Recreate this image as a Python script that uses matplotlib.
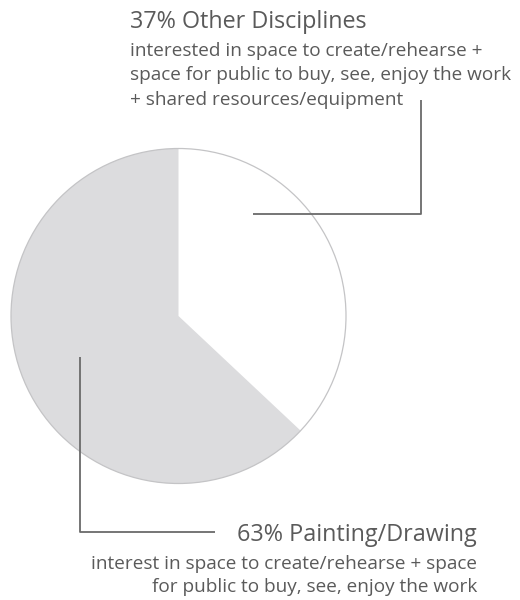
import matplotlib
matplotlib.use("Agg")
import matplotlib.pyplot as plt
from matplotlib.patches import Circle

plt.rcParams['font.family'] = ['Open Sans', 'DejaVu Sans']

categories = ["Other Disciplines", "Painting/Drawing"]
shares = [37, 63]
descriptions = [
    ["interested in space to create/rehearse +",
     "space for public to buy, see, enjoy the work",
     "+ shared resources/equipment"],
    ["interest in space to create/rehearse + space",
     "for public to buy, see, enjoy the work"],
]
slice_colors = ["#ffffff", "#dcdcde"]

W, H = 520, 600
fig = plt.figure(figsize=(W / 100, H / 100), dpi=100)
ax = fig.add_axes([0, 0, 1, 1])

cx, cy, r = 178.5, 316, 167.5
# y runs downward, so counterclock=True with start at -90 reads clockwise from 12 o'clock
ax.pie(shares, colors=slice_colors, startangle=-90, counterclock=True,
       center=(cx, cy), radius=r, wedgeprops=dict(linewidth=0), frame=True)
ax.set_xlim(0, W)
ax.set_ylim(H, 0)
ax.set_aspect("equal")
ax.axis("off")
ax.add_patch(Circle((cx, cy), r, fill=False, edgecolor="#c4c4c6", linewidth=0.9, zorder=3))

line_kw = dict(color="#6a6a6a", linewidth=1.3, solid_capstyle="butt", zorder=4)
ax.plot([253, 421, 421], [214, 214, 100], **line_kw)
ax.plot([80, 80, 215], [357, 532, 532], **line_kw)

txt = "#5a5a5a"
title_size, body_size = 16.8, 13.7

ax.text(130, 28, f"{shares[0]}% {categories[0]}", fontsize=title_size, color=txt,
        ha="left", va="baseline")
for i, line in enumerate(descriptions[0]):
    ax.text(130, 56 + 24.5 * i, line, fontsize=body_size, color=txt,
            ha="left", va="baseline")

ax.text(477, 541, f"{shares[1]}% {categories[1]}", fontsize=title_size, color=txt,
        ha="right", va="baseline")
for i, line in enumerate(descriptions[1]):
    ax.text(477, 569 + 23.5 * i, line, fontsize=body_size, color=txt,
            ha="right", va="baseline")

fig.savefig("out.png", dpi=100)
